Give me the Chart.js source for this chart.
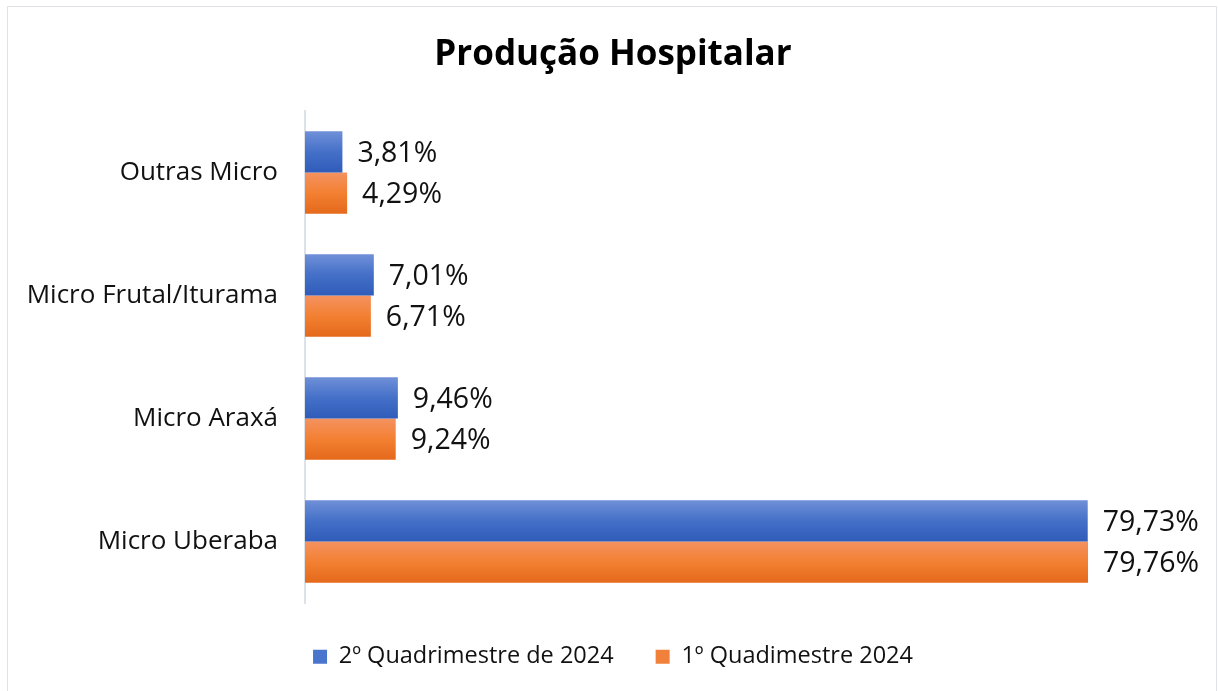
<!DOCTYPE html>
<html><head><meta charset="utf-8">
<script src="https://cdn.jsdelivr.net/npm/chart.js@4.4.1/dist/chart.umd.min.js"></script>
<style>
html,body{margin:0;padding:0;background:#fff;}
#wrap{position:relative;width:1218px;height:691px;overflow:hidden;}
#frame{position:absolute;left:7px;top:6px;width:1210px;height:700px;border:1.5px solid #dfe3e8;box-sizing:border-box;pointer-events:none;}
canvas{position:absolute;left:0;top:0;}
</style></head><body>
<div id="wrap"><canvas id="c" width="1218" height="691"></canvas><div id="frame"></div></div>
<script>
const chartTitle = 'Produção Hospitalar';
const categories = ['Outras Micro', 'Micro Frutal/Iturama', 'Micro Araxá', 'Micro Uberaba'];
const seriesNames = ['2º Quadrimestre de 2024', '1º Quadimestre 2024'];
const q2Values = [3.81, 7.01, 9.46, 79.73];
const q1Values = [4.29, 6.71, 9.24, 79.76];

const FONT = '"Open Sans", Lato, sans-serif';
const CAT_PCT = 0.67;

function gradientFill(stops, fallback) {
  return function (ctx) {
    const chart = ctx.chart;
    if (ctx.type !== 'data' || !chart.chartArea || !chart.scales.y) return fallback;
    const ys = chart.scales.y;
    const n = chart.data.datasets.length;
    const c = ys.getPixelForValue(ctx.dataIndex);
    const band = Math.abs(ys.getPixelForValue(1) - ys.getPixelForValue(0)) || 1;
    const group = band * CAT_PCT;
    const th = group / n;
    const top = c - group / 2 + ctx.datasetIndex * th;
    const g = chart.ctx.createLinearGradient(0, top, 0, top + th);
    stops.forEach((s, i) => g.addColorStop(i / (stops.length - 1), s));
    return g;
  };
}

const valueLabels = {
  id: 'valueLabels',
  afterDatasetsDraw(chart) {
    const ctx = chart.ctx;
    ctx.save();
    ctx.font = '28.5px ' + FONT;
    ctx.fillStyle = '#111';
    ctx.textAlign = 'left';
    ctx.textBaseline = 'middle';
    chart.data.datasets.forEach((ds, di) => {
      const meta = chart.getDatasetMeta(di);
      meta.data.forEach((el, i) => {
        const v = ds.data[i];
        const txt = v.toFixed(2).replace('.', ',') + '%';
        ctx.fillText(txt, el.x + 15, el.y + 2);
      });
    });
    ctx.restore();
  }
};

new Chart(document.getElementById('c'), {
  type: 'bar',
  data: {
    labels: categories,
    datasets: [
      {
        label: seriesNames[0],
        data: q2Values,
        backgroundColor: gradientFill(['#7090d8', '#4470c8', '#2f5cb9'], '#4472c4'),
        categoryPercentage: CAT_PCT,
        barPercentage: 1.0,
        borderWidth: 0
      },
      {
        label: seriesNames[1],
        data: q1Values,
        backgroundColor: gradientFill(['#f49260', '#f38032', '#e4691b'], '#ed7d31'),
        categoryPercentage: CAT_PCT,
        barPercentage: 1.0,
        borderWidth: 0
      }
    ]
  },
  options: {
    indexAxis: 'y',
    responsive: false,
    animation: false,
    events: [],
    layout: { padding: { left: 8, right: 0, top: 0, bottom: 12.5 } },
    plugins: {
      title: {
        display: true,
        text: chartTitle,
        color: '#000',
        font: { family: FONT, size: 35, weight: 'bold' },
        padding: { top: 34, bottom: 35 }
      },
      legend: {
        display: true,
        position: 'bottom',
        labels: {
          color: '#111',
          font: { family: FONT, size: 23.5 },
          boxWidth: 14,
          boxHeight: 14,
          padding: 42,
          generateLabels(chart) {
            const cols = ['#4a75cc', '#f0803a'];
            return chart.data.datasets.map((ds, i) => ({
              text: ds.label, fillStyle: cols[i], strokeStyle: cols[i], lineWidth: 0,
              hidden: false, datasetIndex: i, fontColor: '#111'
            }));
          }
        }
      },
      tooltip: { enabled: false }
    },
    scales: {
      x: { display: false, min: 0, max: 93 },
      y: {
        grid: { display: false, drawTicks: false },
        border: { display: true, color: '#dde2e9', width: 2 },
        ticks: { color: '#111', font: { family: FONT, size: 26 }, padding: 27 },
        afterFit(s) { s.width = 297; }
      }
    }
  },
  plugins: [valueLabels]
});
</script>
</body></html>
